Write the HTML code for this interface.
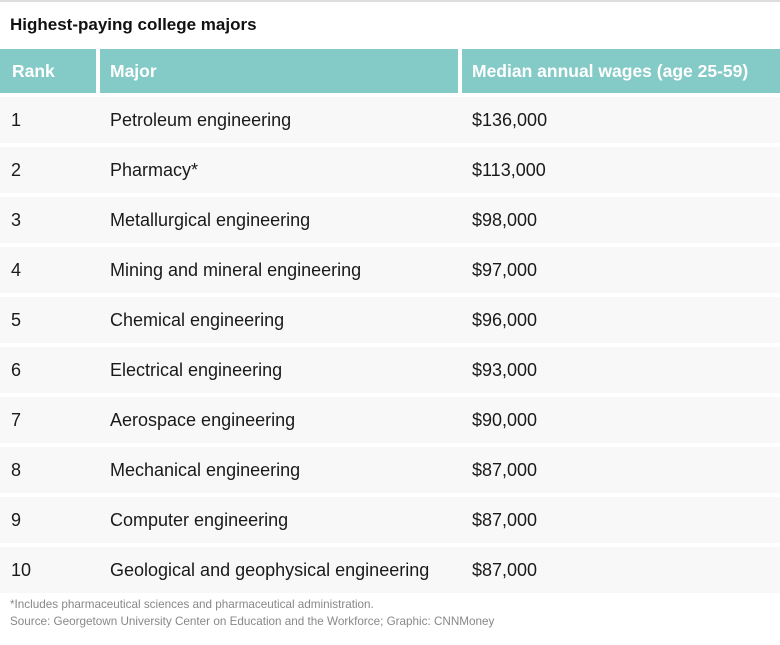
<!DOCTYPE html>
<html><head><style>
body{margin:0;width:780px;height:645px;background:#fff;font-family:"Liberation Sans",Arial,sans-serif;position:relative;overflow:hidden}
.top{position:absolute;left:0;top:0;width:780px;height:2px;background:#ddd}
.title{position:absolute;left:10px;top:15px;font-size:17px;font-weight:bold;color:#111}
.c{position:absolute;height:44px;line-height:44px;font-size:18px;box-sizing:border-box;padding-left:12px;white-space:nowrap}
.h{background:#84cac7;color:#fff;font-weight:bold;top:49px;font-size:17.5px}
.r{background:#f8f8f8;color:#1a1a1a;height:46px;line-height:46px}
.foot{position:absolute;left:10px;font-size:11.7px;color:#888;white-space:nowrap}
</style></head><body>
<div class="top"></div>
<div class="title">Highest-paying college majors</div>
<div class="c h" style="left:0;width:96px">Rank</div>
<div class="c h" style="left:100px;width:358px;padding-left:10px">Major</div>
<div class="c h" style="left:462px;width:318px;padding-left:10px">Median annual wages (age 25-59)</div>
<div id="rows"></div>
<script>
var d=[["1","Petroleum engineering","$136,000"],["2","Pharmacy*","$113,000"],["3","Metallurgical engineering","$98,000"],["4","Mining and mineral engineering","$97,000"],["5","Chemical engineering","$96,000"],["6","Electrical engineering","$93,000"],["7","Aerospace engineering","$90,000"],["8","Mechanical engineering","$87,000"],["9","Computer engineering","$87,000"],["10","Geological and geophysical engineering","$87,000"]];
var h="";
d.forEach(function(r,i){var t=97+i*50;
h+='<div class="c r" style="left:0;width:780px;top:'+t+'px;padding-left:11px">'+r[0]+'</div>';
h+='<div class="c r" style="left:100px;width:358px;top:'+t+'px;padding-left:10px;background:none">'+r[1]+'</div>';
h+='<div class="c r" style="left:462px;width:300px;top:'+t+'px;padding-left:10px;background:none">'+r[2]+'</div>';});
document.getElementById("rows").innerHTML=h;
</script>
<div class="foot" style="top:598px">*Includes pharmaceutical sciences and pharmaceutical administration.</div>
<div class="foot" style="top:615px">Source: Georgetown University Center on Education and the Workforce; Graphic: CNNMoney</div>
</body></html>
